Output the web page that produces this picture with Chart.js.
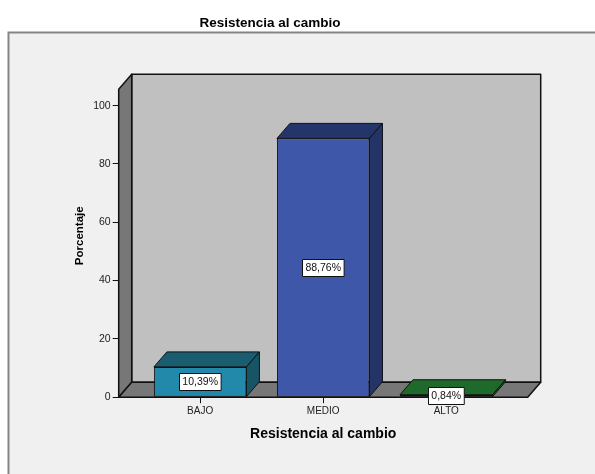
<!DOCTYPE html>
<html>
<head>
<meta charset="utf-8">
<title>Resistencia al cambio</title>
<script src="https://cdn.jsdelivr.net/npm/chart.js@4.4.1/dist/chart.umd.min.js"></script>
<style>
  html, body { margin: 0; padding: 0; background: #ffffff; }
  #wrap { width: 595px; height: 474px; }
</style>
</head>
<body>
<div id="wrap"><canvas id="c" width="595" height="474"></canvas></div>
<script>
// Categories and percentages
const categories = ['BAJO', 'MEDIO', 'ALTO'];
const porcentajes = [10.39, 88.76, 0.84];
const yTicks = [0, 20, 40, 60, 80, 100];

// Bar face colours: front, top, side
const frontColors = ['#2389ab', '#3e57a8', '#21752f'];
const topColors   = ['#1a5d71', '#24356c', '#1e6a2b'];
const sideColors  = ['#165466', '#253468', '#1a5e26'];

const FONT = '"Liberation Sans", Arial, sans-serif';
const DX = 13, DY = 15; // depth offset of the 3D box

const pageFrame = {
  id: 'pageFrame',
  beforeDraw(chart) {
    const ctx = chart.ctx;
    ctx.save();
    ctx.fillStyle = '#ffffff';
    ctx.fillRect(0, 0, chart.width, chart.height);
    ctx.fillStyle = '#f0f0f0';
    ctx.fillRect(8.5, 32.5, chart.width, chart.height);
    ctx.strokeStyle = '#858585';
    ctx.lineWidth = 2;
    ctx.beginPath();
    ctx.moveTo(8.5, chart.height + 5);
    ctx.lineTo(8.5, 32.5);
    ctx.lineTo(chart.width + 5, 32.5);
    ctx.stroke();
    ctx.restore();
  }
};

function poly(ctx, pts, fill) {
  ctx.beginPath();
  ctx.moveTo(pts[0][0], pts[0][1]);
  for (let i = 1; i < pts.length; i++) ctx.lineTo(pts[i][0], pts[i][1]);
  ctx.closePath();
  ctx.fillStyle = fill;
  ctx.fill();
  ctx.stroke();
}

const walls = {
  id: 'walls',
  beforeDatasetsDraw(chart) {
    const {ctx, chartArea: a} = chart;
    ctx.save();
    ctx.strokeStyle = '#111111';
    ctx.lineWidth = 1.5;
    ctx.lineJoin = 'round';
    // back wall
    poly(ctx, [[a.left + DX, a.top - DY], [a.right + DX, a.top - DY],
               [a.right + DX, a.bottom - DY], [a.left + DX, a.bottom - DY]], '#c0c0c0');
    // left wall
    poly(ctx, [[a.left, a.bottom], [a.left, a.top], [a.left + DX, a.top - DY],
               [a.left + DX, a.bottom - DY]], '#777777');
    // floor
    poly(ctx, [[a.left, a.bottom], [a.right, a.bottom], [a.right + DX, a.bottom - DY],
               [a.left + DX, a.bottom - DY]], '#777777');
    // y axis title
    ctx.translate(80, (a.top - DY + a.bottom) / 2);
    ctx.rotate(-Math.PI / 2);
    ctx.fillStyle = '#000000';
    ctx.font = 'bold 11.5px ' + FONT;
    ctx.textAlign = 'center';
    ctx.textBaseline = 'middle';
    ctx.fillText('Porcentaje', 0, 0);
    ctx.restore();
  }
};

const boxes3d = {
  id: 'boxes3d',
  afterDatasetsDraw(chart) {
    const ctx = chart.ctx;
    const meta = chart.getDatasetMeta(0);
    ctx.save();
    ctx.strokeStyle = '#111111';
    ctx.lineWidth = 1;
    ctx.lineJoin = 'round';
    meta.data.forEach((el, i) => {
      const p = el.getProps(['x', 'y', 'base', 'width'], true);
      const l = p.x - p.width / 2, r = p.x + p.width / 2;
      poly(ctx, [[l, p.y], [l + DX, p.y - DY], [r + DX, p.y - DY], [r, p.y]], topColors[i]);
      poly(ctx, [[r, p.y], [r + DX, p.y - DY], [r + DX, p.base - DY], [r, p.base]], sideColors[i]);
    });
    // value labels
    ctx.font = '10.5px ' + FONT;
    ctx.textAlign = 'center';
    ctx.textBaseline = 'middle';
    meta.data.forEach((el, i) => {
      const p = el.getProps(['x', 'y', 'base'], true);
      const txt = porcentajes[i].toFixed(2).replace('.', ',') + '%';
      const w = ctx.measureText(txt).width + 6, h = 17;
      const cy = (p.y + p.base) / 2;
      const bx = Math.round(p.x - w / 2) + 0.5, by = Math.round(cy - h / 2) + 0.5;
      ctx.fillStyle = '#ffffff';
      ctx.fillRect(bx, by, w, h);
      ctx.strokeStyle = '#111111';
      ctx.strokeRect(bx, by, w, h);
      ctx.fillStyle = '#111111';
      ctx.fillText(txt, p.x, cy + 0.5);
    });
    ctx.restore();
  }
};

new Chart(document.getElementById('c'), {
  type: 'bar',
  data: {
    datasets: [{
      data: categories.map((c, i) => ({x: i, y: porcentajes[i]})),
      backgroundColor: frontColors,
      borderColor: '#111111',
      borderWidth: 1,
      borderSkipped: false,
      categoryPercentage: 1,
      barPercentage: 0.752
    }]
  },
  options: {
    responsive: false,
    devicePixelRatio: 1,
    animation: false,
    layout: { padding: { left: 12.3, right: 67.3, top: 0, bottom: 0 } },
    plugins: {
      legend: { display: false },
      tooltip: { enabled: false },
      title: {
        display: true,
        text: 'Resistencia al cambio',
        color: '#000000',
        font: { family: FONT, size: 13.5, weight: 'bold' },
        padding: { top: 15, bottom: 58.1 }
      }
    },
    scales: {
      x: {
        type: 'linear',
        offset: false,
        min: -0.662,
        max: 2.662,
        afterBuildTicks(scale) { scale.ticks = categories.map((c, i) => ({value: i})); },
        afterFit(scale) { scale.height = 76.8; },
        ticks: {
          callback: (v) => categories[v],
          color: '#222222',
          font: { family: FONT, size: 10 },
          padding: 2
        },
        grid: { offset: false, drawOnChartArea: false, drawTicks: true, tickLength: 6, color: '#111111' },
        border: { display: false },
        title: {
          display: true,
          text: 'Resistencia al cambio',
          color: '#000000',
          font: { family: FONT, size: 14, weight: 'bold' },
          padding: { top: 0, bottom: 31.6 }
        }
      },
      y: {
        min: 0,
        max: 105.6,
        afterBuildTicks(scale) { scale.ticks = yTicks.map(v => ({value: v})); },
        afterFit(scale) { scale.width = 106.4; },
        ticks: {
          color: '#222222',
          font: { family: FONT, size: 10.5 },
          padding: 2
        },
        grid: { drawOnChartArea: false, drawTicks: true, tickLength: 6, color: '#111111' },
        border: { display: false }
      }
    }
  },
  plugins: [pageFrame, walls, boxes3d]
});
</script>
</body>
</html>
